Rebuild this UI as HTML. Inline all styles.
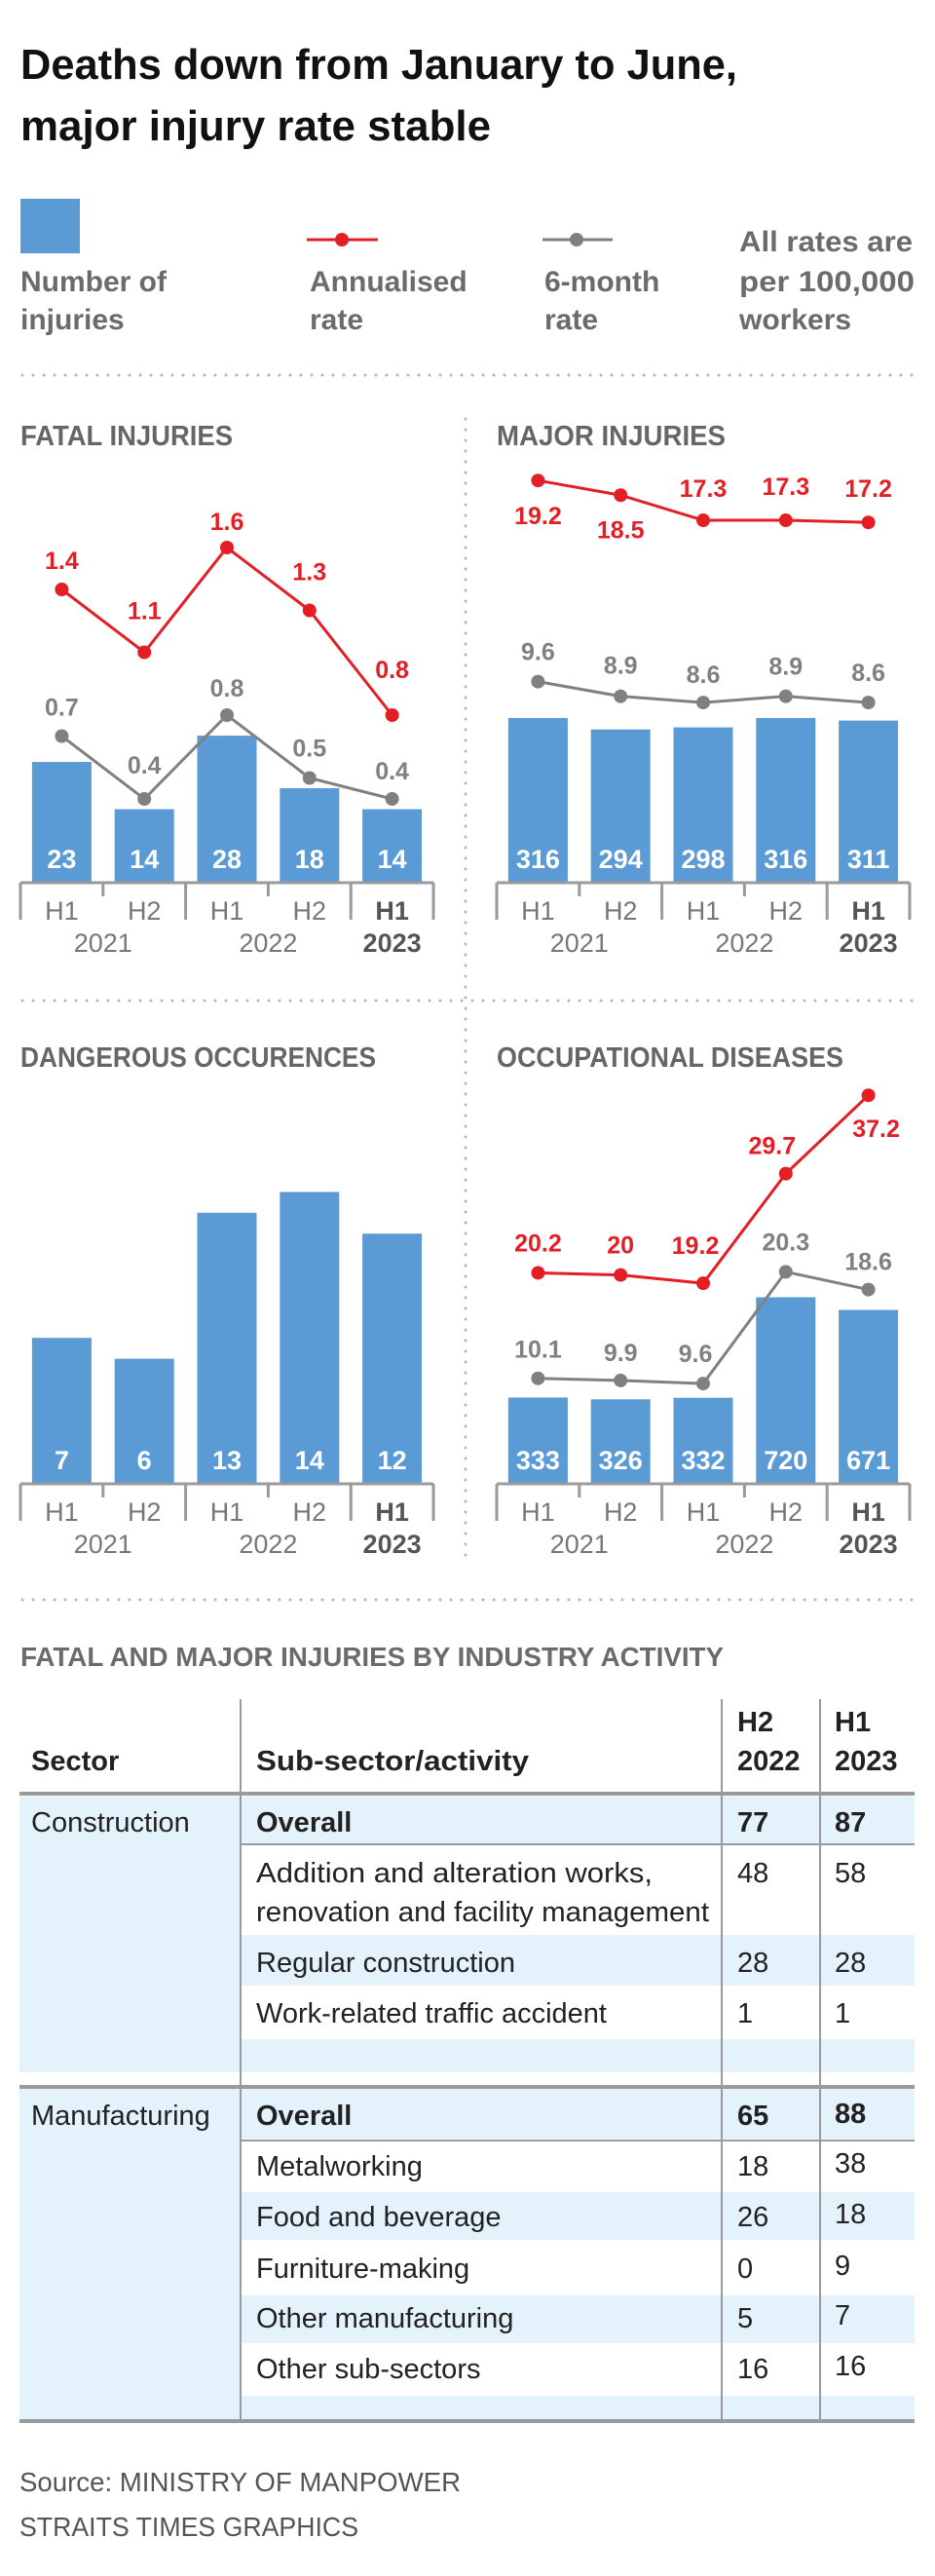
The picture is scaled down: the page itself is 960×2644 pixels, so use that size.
<!DOCTYPE html>
<html><head><meta charset="utf-8"><style>
html,body{margin:0;padding:0;background:#fff;}
svg{display:block;font-family:"Liberation Sans",sans-serif;}
</style></head><body>
<svg id="root" width="960" height="2644" viewBox="0 0 960 2644">
<g font-weight="bold" font-size="44" fill="#111">
<text x="21" y="81" textLength="736" lengthAdjust="spacingAndGlyphs">Deaths down from January to June,</text>
<text x="21" y="144" textLength="483" lengthAdjust="spacingAndGlyphs">major injury rate stable</text>
</g>
<g font-weight="bold" font-size="30" fill="#6b6b6b">
<rect x="21" y="204" width="61" height="56" fill="#5b9bd5"/>
<text x="21" y="299">Number of</text><text x="21" y="338">injuries</text>
<g><line x1="315" y1="246" x2="388" y2="246" stroke="#e31e24" stroke-width="3"/><circle cx="351" cy="246" r="7" fill="#e31e24"/>
<text x="318" y="299">Annualised</text><text x="318" y="338">rate</text></g>
<g><line x1="557" y1="246" x2="629" y2="246" stroke="#808080" stroke-width="3"/><circle cx="592" cy="246" r="7" fill="#808080"/>
<text x="559" y="299">6-month</text><text x="559" y="338">rate</text></g>
<g><text x="759" y="258" textLength="178" lengthAdjust="spacingAndGlyphs">All rates are</text><text x="759" y="299" textLength="180" lengthAdjust="spacingAndGlyphs">per 100,000</text><text x="759" y="338">workers</text></g>
</g>
<g id="dots" stroke="#b5b5b5" stroke-width="3" stroke-linecap="round" stroke-dasharray="0 11">
<line x1="23" y1="385" x2="940" y2="385"/>
<line x1="23" y1="1027" x2="940" y2="1027"/>
<line x1="23" y1="1642" x2="940" y2="1642"/>
<line x1="478" y1="430" x2="478" y2="1598"/>
</g>
<g id="charts"></g>
<g font-size="29" fill="#222">
<text x="21" y="1710" font-weight="bold" font-size="28" fill="#6b6b6b" textLength="722" lengthAdjust="spacingAndGlyphs">FATAL AND MAJOR INJURIES BY INDUSTRY ACTIVITY</text>
<g fill="#e4f2fb">
<rect x="20" y="1844" width="227" height="283"/>
<rect x="247" y="1844" width="692" height="48"/>
<rect x="247" y="1986" width="692" height="52"/>
<rect x="247" y="2093" width="692" height="34"/>
<rect x="20" y="2144" width="227" height="339"/>
<rect x="247" y="2144" width="692" height="51"/>
<rect x="247" y="2250" width="692" height="49"/>
<rect x="247" y="2356" width="692" height="49"/>
<rect x="247" y="2459" width="692" height="24"/>
</g>
<g stroke="#9a9a9a">
<line x1="20" y1="1841" x2="939" y2="1841" stroke-width="4"/>
<line x1="247" y1="1893" x2="939" y2="1893" stroke-width="2"/>
<line x1="20" y1="2142" x2="939" y2="2142" stroke-width="4"/>
<line x1="247" y1="2197" x2="939" y2="2197" stroke-width="2"/>
<line x1="20" y1="2485" x2="939" y2="2485" stroke-width="4"/>
<line x1="247" y1="1744" x2="247" y2="2485" stroke-width="2"/>
<line x1="741" y1="1744" x2="741" y2="2485" stroke-width="2"/>
<line x1="842" y1="1744" x2="842" y2="2485" stroke-width="2"/>
</g>
<g font-weight="bold" font-size="29">
<text x="32" y="1817">Sector</text>
<text x="263" y="1817" textLength="280" lengthAdjust="spacingAndGlyphs">Sub-sector/activity</text>
<text x="757" y="1777">H2</text><text x="757" y="1817">2022</text>
<text x="857" y="1777">H1</text><text x="857" y="1817">2023</text>
</g>
<text x="32" y="1880">Construction</text>
<text x="263" y="1880" font-weight="bold">Overall</text><text x="757" y="1880" font-weight="bold">77</text><text x="857" y="1880" font-weight="bold">87</text>
<text x="263" y="1932" textLength="407" lengthAdjust="spacingAndGlyphs">Addition and alteration works,</text><text x="757" y="1932">48</text><text x="857" y="1932">58</text>
<text x="263" y="1972" textLength="465" lengthAdjust="spacingAndGlyphs">renovation and facility management</text>
<text x="263" y="2024">Regular construction</text><text x="757" y="2024">28</text><text x="857" y="2024">28</text>
<text x="263" y="2076">Work-related traffic accident</text><text x="757" y="2076">1</text><text x="857" y="2076">1</text>
<text x="32" y="2181">Manufacturing</text>
<text x="263" y="2181" font-weight="bold">Overall</text><text x="757" y="2181" font-weight="bold">65</text><text x="857" y="2179" font-weight="bold">88</text>
<text x="263" y="2233">Metalworking</text><text x="757" y="2233">18</text><text x="857" y="2230">38</text>
<text x="263" y="2285">Food and beverage</text><text x="757" y="2285">26</text><text x="857" y="2282">18</text>
<text x="263" y="2338">Furniture-making</text><text x="757" y="2338">0</text><text x="857" y="2335">9</text>
<text x="263" y="2389">Other manufacturing</text><text x="757" y="2389">5</text><text x="857" y="2386">7</text>
<text x="263" y="2441">Other sub-sectors</text><text x="757" y="2441">16</text><text x="857" y="2438">16</text>
</g>
<g font-size="28" fill="#555">
<text x="20" y="2557" textLength="453" lengthAdjust="spacingAndGlyphs">Source: MINISTRY OF MANPOWER</text>
<text x="20" y="2603" textLength="348" lengthAdjust="spacingAndGlyphs">STRAITS TIMES GRAPHICS</text>
</g>
</svg>
<script>
const periods = ['H1','H2','H1','H2','H1'];
const years = ['2021','2022','2023'];
const fatalCounts = [23,14,28,18,14];
const fatalAnnual = [1.4,1.1,1.6,1.3,0.8];
const fatalSixMonth = [0.7,0.4,0.8,0.5,0.4];
const majorCounts = [316,294,298,316,311];
const majorAnnual = [19.2,18.5,17.3,17.3,17.2];
const majorSixMonth = [9.6,8.9,8.6,8.9,8.6];
const dangerCounts = [7,6,13,14,12];
const occCounts = [333,326,332,720,671];
const occAnnual = [20.2,20,19.2,29.7,37.2];
const occSixMonth = [10.1,9.9,9.6,20.3,18.6];

const NS = 'http://www.w3.org/2000/svg';
const charts = document.getElementById('charts');
function mk(tag, attrs, parent, txt){
  const e = document.createElementNS(NS, tag);
  for (const k in attrs) e.setAttribute(k, attrs[k]);
  if (txt !== undefined) e.textContent = txt;
  parent.appendChild(e);
  return e;
}
const panels = [
  {name:'fatal-injuries', title:'FATAL INJURIES', tw:218, x0:21, base:906, counts:fatalCounts, barK:5.39, annual:fatalAnnual, six:fatalSixMonth, rateK:215,
   rOff:[[0,-21],[0,-34],[0,-18],[0,-31],[0,-38]], gOff:[[0,-21],[0,-26],[0,-19],[0,-22],[0,-20]]},
  {name:'major-injuries', title:'MAJOR INJURIES', tw:235, x0:510, base:906, counts:majorCounts, barK:0.535, annual:majorAnnual, six:majorSixMonth, rateK:21.5,
   rOff:[[0,45],[0,44],[0,-24],[0,-26],[0,-26]], gOff:[[0,-22],[0,-23],[0,-20],[0,-22],[0,-22]]},
  {name:'dangerous-occurences', title:'DANGEROUS OCCURENCES', tw:365, x0:21, base:1523, counts:dangerCounts, barK:21.4},
  {name:'occupational-diseases', title:'OCCUPATIONAL DISEASES', tw:356, x0:510, base:1523, counts:occCounts, barK:0.266, annual:occAnnual, six:occSixMonth, rateK:10.72,
   rOff:[[0,-22],[0,-22],[-8,-30],[-14,-20],[8,43]], gOff:[[0,-21],[0,-20],[-8,-22],[0,-22],[0,-20]]}
];
const slot = 84.8;
panels.forEach(p => {
  const g = mk('g', {}, charts);
  
  
  const xc = i => p.x0 + slot*(i+0.5);
  const yBar = v => p.base - v*p.barK;
  const yRate = v => p.base - v*p.rateK;
  const titleY = p.base === 906 ? 457 : 1095;
  const t = mk('text', {x:p.x0, y:titleY, 'font-weight':'bold', 'font-size':29, fill:'#666', textLength:p.tw, lengthAdjust:'spacingAndGlyphs'}, g, p.title);
  
  
  p.counts.forEach((v,i) => {
    const r = mk('rect', {x:xc(i)-30.5, y:yBar(v), width:61, height:p.base-yBar(v), fill:'#5b9bd5'}, g);
    
    
    const l = mk('text', {x:xc(i), y:p.base-15, 'text-anchor':'middle', 'font-weight':'bold', 'font-size':27, fill:'#fff'}, g, String(v));
    
    
  });
  const ax = mk('g', {stroke:'#9a9a9a'}, g);
  
  
  mk('line', {x1:p.x0, y1:p.base, x2:p.x0+slot*5, y2:p.base, 'stroke-width':3}, ax);
  for (let k=0;k<=5;k++){
    const major = (k===0||k===2||k===4||k===5);
    mk('line', {x1:p.x0+slot*k, y1:p.base, x2:p.x0+slot*k, y2:p.base+(major?38:14), 'stroke-width':3}, ax);
  }
  periods.forEach((s,i) => {
    const l = mk('text', {x:xc(i), y:p.base+38, 'text-anchor':'middle', 'font-size':27, fill: i===4?'#555':'#777', 'font-weight': i===4?'bold':'normal'}, g, s);
    
    
  });
  const yx = [p.x0+slot, p.x0+slot*3, xc(4)];
  years.forEach((y,j) => {
    const l = mk('text', {x:yx[j], y:p.base+71, 'text-anchor':'middle', 'font-size':27, fill: j===2?'#555':'#777', 'font-weight': j===2?'bold':'normal'}, g, y);
    
    
  });
  if (p.annual){
    [[p.six,'#808080','six-month-rate',p.gOff],[p.annual,'#e31e24','annualised-rate',p.rOff]].forEach(([arr,col,nm,off]) => {
      const sg = mk('g', {}, g);
      
      
      const pts = arr.map((v,i) => xc(i)+','+yRate(v)).join(' ');
      mk('polyline', {points:pts, fill:'none', stroke:col, 'stroke-width':3}, sg);
      arr.forEach((v,i) => {
        const c = mk('circle', {cx:xc(i), cy:yRate(v), r:7, fill:col}, sg);
        
        
        const l = mk('text', {x:xc(i)+off[i][0], y:yRate(v)+off[i][1], 'text-anchor':'middle', 'font-weight':'bold', 'font-size':25, fill:col}, sg, String(v));
        
        
      });
    });
  }
});
</script>
</body></html>
